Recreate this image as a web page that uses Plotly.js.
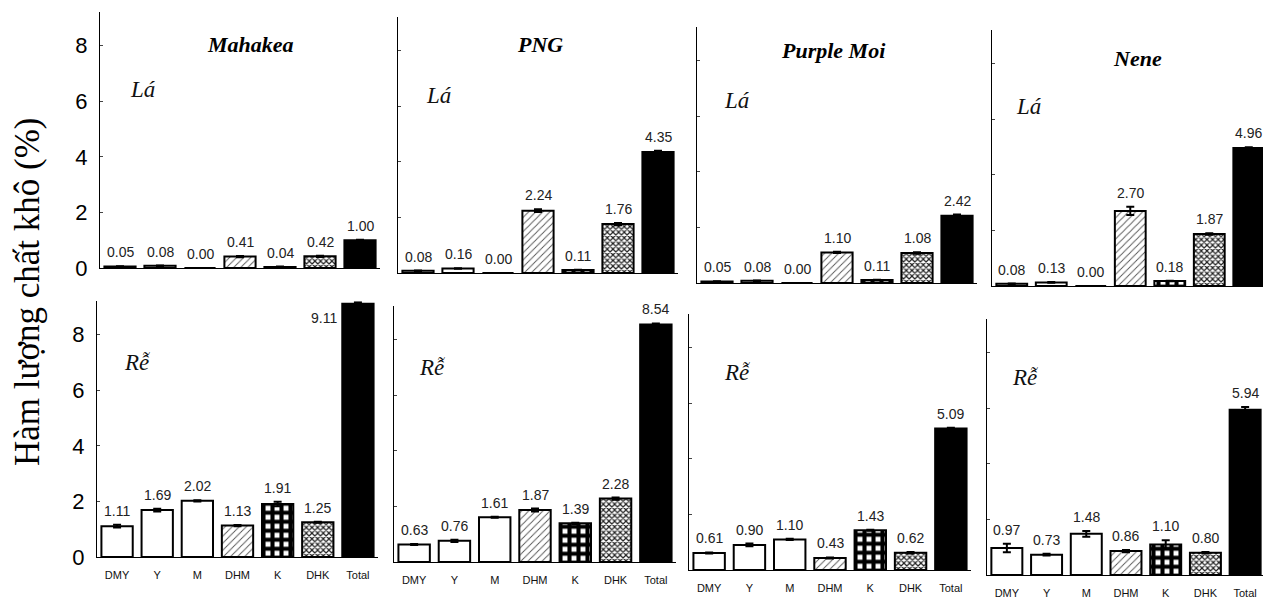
<!DOCTYPE html>
<html><head><meta charset="utf-8">
<script src="https://cdn.plot.ly/plotly-3.0.1.min.js"></script>
<style>html,body{margin:0;padding:0;background:#fff}#chart{width:1263px;height:603px}</style>
</head><body><div id="chart"></div>
<script>
// ---- data ----
const categories = ['DMY', 'Y', 'M', 'DHM', 'K', 'DHK', 'Total'];
const cultivars = ['Mahakea', 'PNG', 'Purple Moi', 'Nene'];
const organs = ['Lá', 'Rễ'];
const yTitle = 'Hàm lượng chất khô (%)';

const laMahakea   = [0.05, 0.08, 0.00, 0.41, 0.04, 0.42, 1.00];
const laPNG       = [0.08, 0.16, 0.00, 2.24, 0.11, 1.76, 4.35];
const laPurpleMoi = [0.05, 0.08, 0.00, 1.10, 0.11, 1.08, 2.42];
const laNene      = [0.08, 0.13, 0.00, 2.70, 0.18, 1.87, 4.96];

const reMahakea   = [1.11, 1.69, 2.02, 1.13, 1.91, 1.25, 9.11];
const rePNG       = [0.63, 0.76, 1.61, 1.87, 1.39, 2.28, 8.54];
const rePurpleMoi = [0.61, 0.90, 1.10, 0.43, 1.43, 0.62, 5.09];
const reNene      = [0.97, 0.73, 1.48, 0.86, 1.10, 0.80, 5.94];

const errLaMahakea   = [0.01, 0.01, 0.00, 0.02, 0.01, 0.02, 0.02];
const errLaPNG       = [0.01, 0.01, 0.00, 0.05, 0.01, 0.04, 0.05];
const errLaPurpleMoi = [0.01, 0.01, 0.00, 0.02, 0.01, 0.03, 0.04];
const errLaNene      = [0.01, 0.01, 0.00, 0.15, 0.01, 0.03, 0.03];

const errReMahakea   = [0.05, 0.05, 0.02, 0.02, 0.08, 0.02, 0.05];
const errRePNG       = [0.02, 0.04, 0.02, 0.05, 0.02, 0.04, 0.04];
const errRePurpleMoi = [0.02, 0.05, 0.02, 0.02, 0.02, 0.03, 0.03];
const errReNene      = [0.15, 0.03, 0.10, 0.04, 0.15, 0.03, 0.10];

const values = [[laMahakea, laPNG, laPurpleMoi, laNene], [reMahakea, rePNG, rePurpleMoi, reNene]];
const errors = [[errLaMahakea, errLaPNG, errLaPurpleMoi, errLaNene], [errReMahakea, errRePNG, errRePurpleMoi, errReNene]];

// ---- geometry (pixels) ----
const W = 1263, H = 603;
const yMax = 9.2, pxPerUnit = 27.8;
const colDomains = [
  [[100, 380], [398, 678], [697, 977], [992, 1263]],
  [[97, 378], [394, 676], [689, 971], [987, 1263]]
];
const xRangeMax = [[6.5, 6.5, 6.5, 6.36], [6.5, 6.5, 6.5, 6.45]];
const baselines = [[268, 273, 283, 286], [557, 562, 570, 575]];
const titlePos = [[250, 44], [540, 44], [833, 51], [1137, 58]];
const organPos = [[[142, 90], [438, 95], [736, 100], [1028, 107]], [[137, 362], [432, 367], [737, 372], [1025, 377]]];

// ---- styles (one per category) ----
const fillColors = ['#fff', '#fff', '#fff', '#fff', '#fff', '#fff', '#000'];
const patShapes  = ['', '', '', '/', '+', 'x', ''];
const patFg      = ['#000', '#000', '#000', '#555', '#000', '#222', '#000'];
const patSize    = [6, 6, 6, 5, 9, 4, 6];
const patSolid   = [0.3, 0.3, 0.3, 0.18, 0.7, 0.5, 0.3];

const traces = [];
const annotations = [];
const labelFont = {size: 14, family: 'Liberation Sans, Arial, sans-serif', color: '#222'};
const layout = {
  width: W, height: H,
  margin: {l: 0, r: 0, t: 0, b: 0},
  paper_bgcolor: '#fff', plot_bgcolor: 'rgba(0,0,0,0)',
  showlegend: false,
  barmode: 'overlay',
  font: {family: 'Liberation Sans, Arial, sans-serif', color: '#000'}
};

for (let r = 0; r < 2; r++) {
  for (let c = 0; c < 4; c++) {
    const k = r * 4 + c + 1;
    const xn = 'xaxis' + (k === 1 ? '' : k), yn = 'yaxis' + (k === 1 ? '' : k);
    const xr = 'x' + (k === 1 ? '' : k), yr = 'y' + (k === 1 ? '' : k);
    const d = colDomains[r][c];
    const b = baselines[r][c];
    const top = b - yMax * pxPerUnit;
    layout[xn] = {
      domain: [d[0] / W, Math.min(1, d[1] / W)],
      anchor: yr,
      type: 'category',
      categoryorder: 'array', categoryarray: categories,
      range: [-0.5, xRangeMax[r][c]],
      showline: true, linecolor: '#000', linewidth: 1,
      showgrid: false, zeroline: false,
      ticks: '', showticklabels: r === 1,
      tickfont: {size: 11, family: 'Liberation Sans, Arial, sans-serif', color: '#111'},
      ticklabelstandoff: 8,
      fixedrange: true
    };
    layout[yn] = {
      domain: [1 - b / H, 1 - top / H],
      anchor: xr,
      range: [0, yMax],
      tickvals: [0, 2, 4, 6, 8],
      showline: true, linecolor: '#000', linewidth: 1,
      showgrid: false, zeroline: false,
      ticks: 'inside', ticklen: 3, tickcolor: '#444',
      showticklabels: c === 0,
      tickfont: {size: 22, family: 'Liberation Sans, Arial, sans-serif', color: '#000'},
      ticklabelstandoff: 7,
      fixedrange: true
    };
    const v = values[r][c], e = errors[r][c];
    categories.forEach((cat, j) => {
      const marker = {color: fillColors[j], line: {color: '#000', width: 2}};
      if (patShapes[j]) {
        marker.pattern = {shape: patShapes[j], fgcolor: patFg[j], bgcolor: fillColors[j],
                          size: patSize[j], solidity: patSolid[j], fillmode: 'replace'};
      }
      traces.push({
        type: 'bar', x: [cat], y: [v[j]], xaxis: xr, yaxis: yr, width: 0.78,
        marker: marker,
        error_y: {type: 'data', array: [e[j]], visible: true, color: '#000', thickness: 2, width: 4},
        hoverinfo: 'skip'
      });
      const overflow = v[j] + e[j] + 0.6 > yMax;
      annotations.push({
        xref: xr, yref: yr, x: cat,
        y: overflow ? v[j] - 0.5 : v[j] + e[j],
        text: v[j].toFixed(2),
        showarrow: false,
        xanchor: overflow ? 'right' : 'center',
        yanchor: overflow ? 'middle' : 'bottom',
        xshift: overflow ? -19 : 0,
        yshift: overflow ? 0 : 4,
        font: labelFont
      });
    });
    annotations.push({
      xref: 'paper', yref: 'paper',
      x: organPos[r][c][0] / W, y: 1 - organPos[r][c][1] / H,
      text: '<i>' + organs[r] + '</i>', showarrow: false,
      xanchor: 'center', yanchor: 'middle',
      font: {size: 23, family: 'Liberation Serif, Times New Roman, serif', color: '#111'}
    });
  }
}

cultivars.forEach((name, c) => {
  annotations.push({
    xref: 'paper', yref: 'paper',
    x: titlePos[c][0] / W, y: 1 - titlePos[c][1] / H,
    text: '<b><i>' + name + '</i></b>', showarrow: false,
    xanchor: 'center', yanchor: 'middle',
    font: {size: 22, family: 'Liberation Serif, Times New Roman, serif', color: '#000'}
  });
});

annotations.push({
  xref: 'paper', yref: 'paper', x: 27 / W, y: 1 - 292 / H,
  text: yTitle, textangle: -90, showarrow: false,
  xanchor: 'center', yanchor: 'middle',
  font: {size: 35, family: 'Liberation Serif, Times New Roman, serif', color: '#000'}
});

layout.annotations = annotations;
Plotly.newPlot('chart', traces, layout, {displayModeBar: false, staticPlot: true});
</script>
</body></html>
